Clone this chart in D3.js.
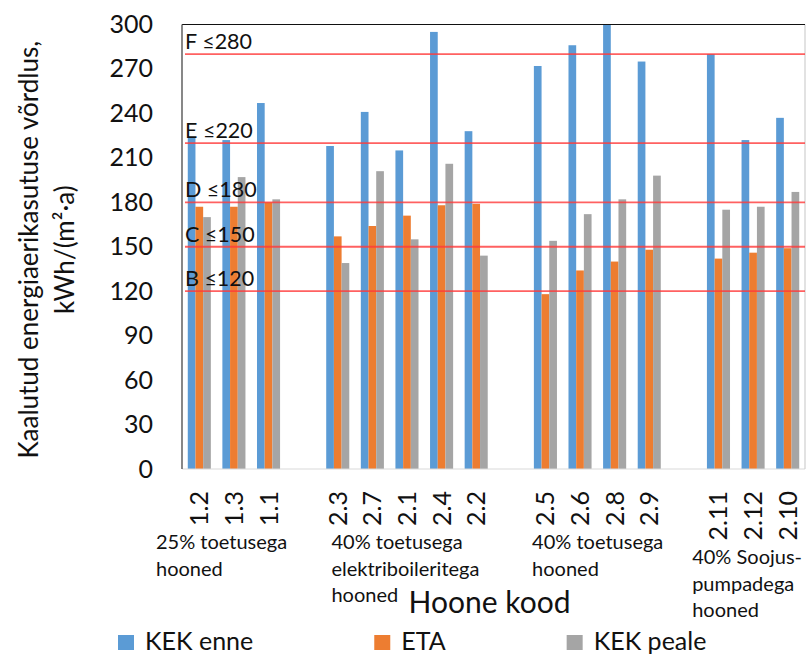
<!DOCTYPE html>
<html>
<head>
<meta charset="utf-8">
<script src="https://cdn.jsdelivr.net/npm/d3@7/dist/d3.min.js"></script>
<style>
  html, body { margin: 0; padding: 0; background: #fff; }
  svg text { font-family: Lato, "Open Sans", sans-serif; fill: #111; }
</style>
</head>
<body>
<svg id="chart" width="806" height="656"></svg>
<script>
// Building codes, in drawing order
const codes = ["1.2", "1.3", "1.1", "2.3", "2.7", "2.1", "2.4", "2.2",
               "2.5", "2.6", "2.8", "2.9", "2.11", "2.12", "2.10"];
// Group index of each building
const groupIndex = [0, 0, 0, 1, 1, 1, 1, 1, 2, 2, 2, 2, 3, 3, 3];
// Group captions (one entry per line)
const groupNames = [
  ["25% toetusega", "hooned"],
  ["40% toetusega", "elektriboileritega", "hooned"],
  ["40% toetusega", "hooned"],
  ["40% Soojus-", "pumpadega", "hooned"]
];
// Series values, kWh/(m²·a)
const kekEnne  = [224, 222, 247, 218, 241, 215, 295, 228, 272, 286, 300, 275, 280, 222, 237];
const eta      = [177, 177, 180, 157, 164, 171, 178, 179, 118, 134, 140, 148, 142, 146, 149];
const kekPeale = [170, 197, 182, 139, 201, 155, 206, 144, 154, 172, 182, 198, 175, 177, 187];
const seriesNames = ["KEK enne", "ETA", "KEK peale"];
const seriesColors = ["#5B9BD5", "#ED7D31", "#A5A5A5"];
// Energy class limits
const classLetters = ["F", "E", "D", "C", "B"];
const classLimits = [280, 220, 180, 150, 120];
// Y axis ticks
const yTicks = [0, 30, 60, 90, 120, 150, 180, 210, 240, 270, 300];

const svg = d3.select("#chart");
const plot = { left: 182, right: 805, top: 24.5, bottom: 469 };

// Category slots with an empty slot between groups
const slots = [];
codes.forEach((c, i) => {
  if (i > 0 && groupIndex[i] !== groupIndex[i - 1]) slots.push("gap" + groupIndex[i]);
  slots.push(c);
});

const x = d3.scaleBand().domain(slots).range([plot.left, plot.right]).padding(0);
const xs = d3.scaleBand().domain(seriesNames).range([0, x.bandwidth()])
  .paddingInner(0).paddingOuter(0.75);
const y = d3.scaleLinear().domain([0, 300]).range([plot.bottom, plot.top]).clamp(true);

// Bars
const seriesValues = [kekEnne, eta, kekPeale];
const rows = [];
codes.forEach((c, i) => {
  seriesNames.forEach((s, k) => rows.push({ code: c, series: s, k, value: seriesValues[k][i] }));
});
svg.append("g").selectAll("rect").data(rows).join("rect")
  .attr("x", d => x(d.code) + xs(d.series))
  .attr("y", d => y(d.value))
  .attr("width", xs.bandwidth())
  .attr("height", d => y(0) - y(d.value))
  .attr("fill", d => seriesColors[d.k]);

// Plot frame
const frame = svg.append("g").attr("fill", "none");
frame.append("line").attr("x1", plot.left).attr("x2", plot.right)
  .attr("y1", plot.bottom).attr("y2", plot.bottom).attr("stroke", "#d9d9d9").attr("stroke-width", 1.2);
frame.append("line").attr("x1", plot.right).attr("x2", plot.right)
  .attr("y1", plot.top).attr("y2", plot.bottom).attr("stroke", "#cfcfcf").attr("stroke-width", 1.2);
frame.append("line").attr("x1", plot.left).attr("x2", plot.right)
  .attr("y1", plot.top).attr("y2", plot.top).attr("stroke", "#111").attr("stroke-width", 1.2);
frame.append("line").attr("x1", plot.left).attr("x2", plot.left)
  .attr("y1", plot.top).attr("y2", plot.bottom).attr("stroke", "#555").attr("stroke-width", 1.4);

// Energy class limit lines and labels
const limits = svg.append("g");
classLimits.forEach((v, i) => {
  limits.append("line")
    .attr("x1", plot.left + 3).attr("x2", plot.right)
    .attr("y1", y(v)).attr("y2", y(v))
    .attr("stroke", "#ff3a3a").attr("stroke-opacity", 0.8).attr("stroke-width", 1.8);
  limits.append("text")
    .attr("x", plot.left + 3).attr("y", y(v) - 5)
    .attr("font-size", 21.5)
    .text(classLetters[i] + " \u2264" + v);
});

// Y axis
const yAxis = svg.append("g")
  .attr("transform", `translate(${plot.left},0)`)
  .call(d3.axisLeft(y).tickValues(yTicks).tickSize(0).tickPadding(29));
yAxis.select(".domain").remove();
yAxis.selectAll("text").attr("font-size", 25).attr("fill", "#111")
  .style("font-family", "Lato, 'Open Sans', sans-serif");

// X tick labels (rotated)
svg.append("g").selectAll("text").data(codes).join("text")
  .attr("transform", d => `translate(${x(d) + x.bandwidth() / 2},491) rotate(-90)`)
  .attr("text-anchor", "end")
  .attr("dy", "0.36em")
  .attr("font-size", 25)
  .text(d => d);

// Group captions
const groupFirst = groupNames.map((g, gi) => codes[groupIndex.indexOf(gi)]);
const captionDx = [-26, 11, 4, -9];
const captionTop = [549, 549, 549, 564];
groupNames.forEach((lines, gi) => {
  const t = svg.append("text")
    .attr("x", x(groupFirst[gi]) + captionDx[gi])
    .attr("y", captionTop[gi])
    .attr("font-size", 20);
  lines.forEach((ln, li) => {
    t.append("tspan").attr("x", x(groupFirst[gi]) + captionDx[gi])
      .attr("dy", li === 0 ? 0 : 26.5).text(ln);
  });
});

// X axis title
svg.append("text")
  .attr("x", (plot.left + plot.right) / 2 - 4).attr("y", 613)
  .attr("text-anchor", "middle").attr("font-size", 30)
  .text("Hoone kood");

// Y axis title
const yTitle = svg.append("g")
  .attr("transform", `translate(0,${(plot.top + plot.bottom) / 2 + 3}) rotate(-90)`);
yTitle.append("text").attr("x", 0).attr("y", 38)
  .attr("text-anchor", "middle").attr("font-size", 26)
  .text("Kaalutud energiaerikasutuse võrdlus,");
yTitle.append("text").attr("x", 0).attr("y", 74)
  .attr("text-anchor", "middle").attr("font-size", 26)
  .text("kWh/(m²·a)");

// Legend
const legend = svg.append("g");
let lx = 118;
seriesNames.forEach((s, k) => {
  legend.append("rect").attr("x", lx).attr("y", 635).attr("width", 16).attr("height", 15)
    .attr("fill", seriesColors[k]);
  const t = legend.append("text").attr("x", lx + 27).attr("y", 650)
    .attr("font-size", 25).text(s);
  lx = lx + 27 + t.node().getComputedTextLength() + 121;
});
</script>
</body>
</html>
